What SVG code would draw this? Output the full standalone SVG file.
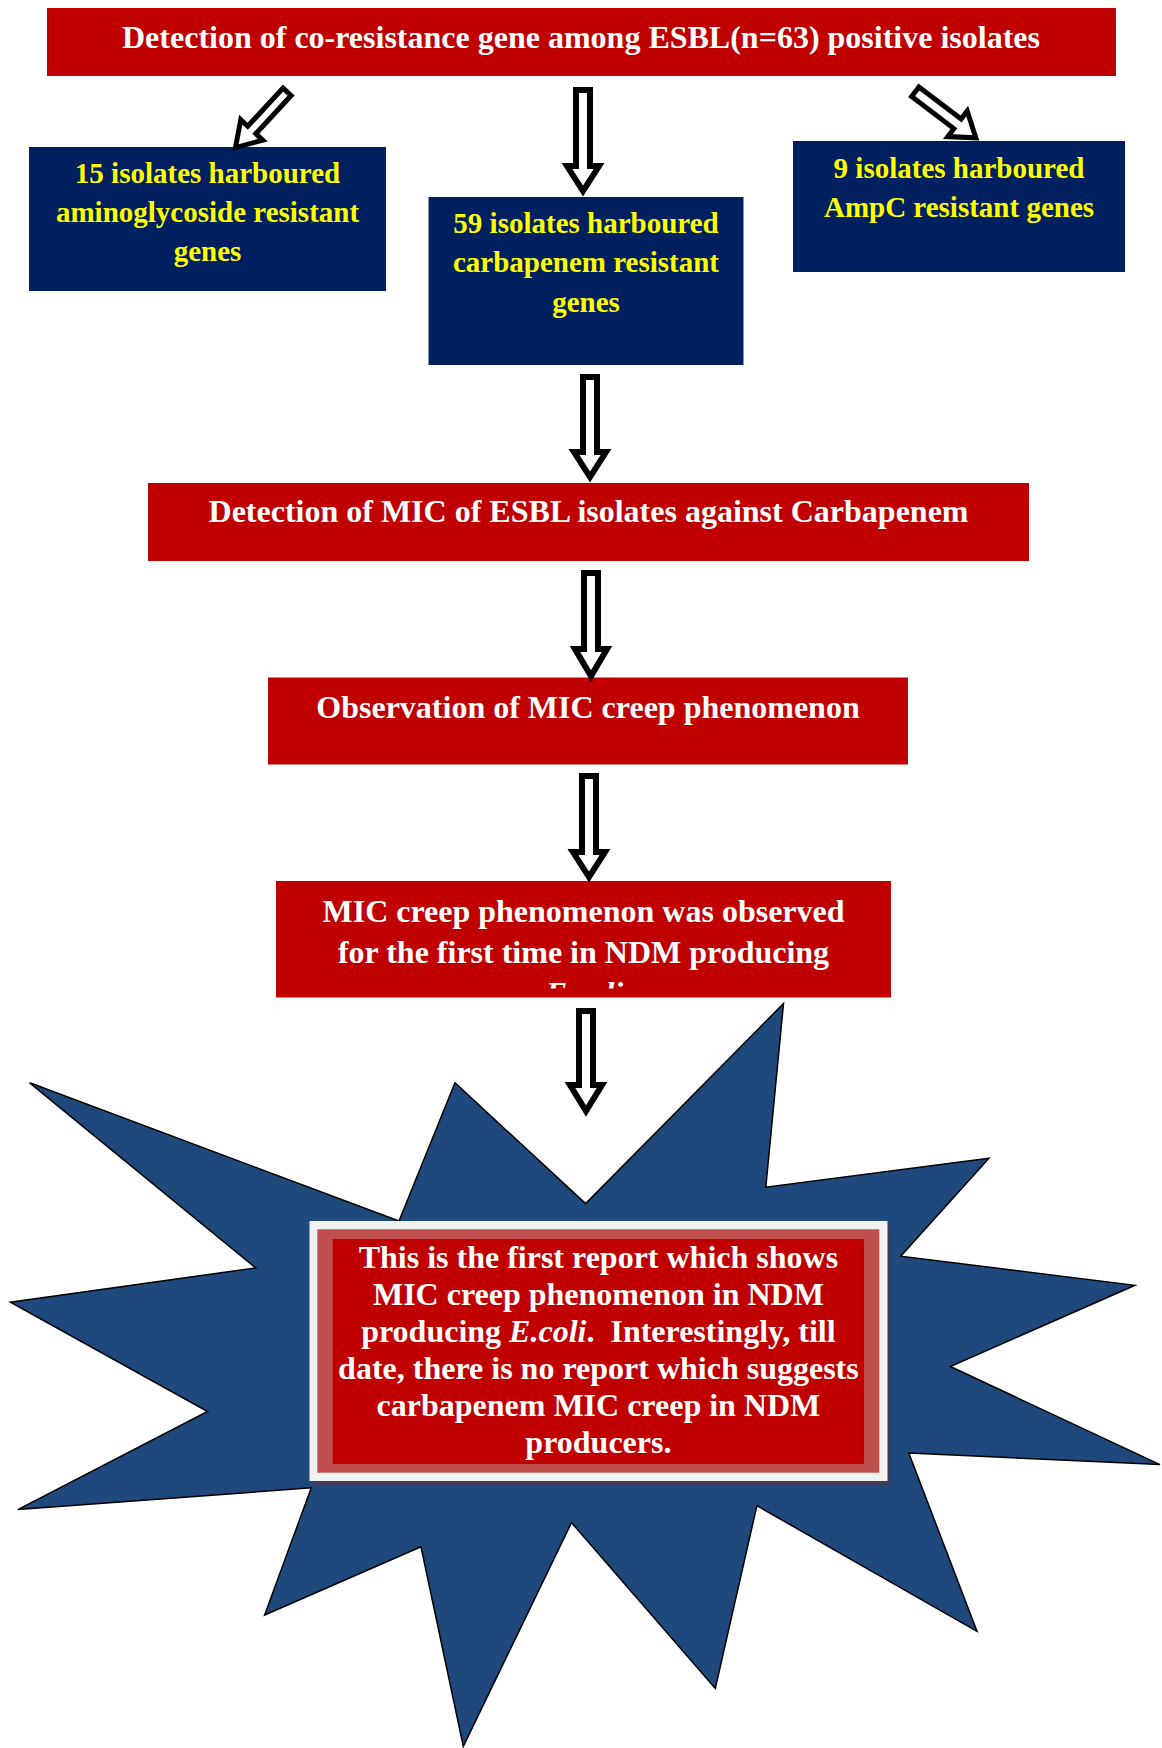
<svg xmlns="http://www.w3.org/2000/svg" width="1162" height="1748" viewBox="0 0 1162 1748">
<style>
.red{fill:#C00000}
.blue{fill:#002060}
.t{font-family:"Liberation Serif","Times New Roman",serif;font-weight:bold;text-anchor:middle}
.w{fill:#FFFFFF;font-size:32px}
.y{fill:#FFFF00;font-size:29px}
.arr{fill:#FFFFFF;stroke:#000000;stroke-linejoin:miter;stroke-miterlimit:10}
.v{stroke-width:6}
.d{stroke-width:5}
</style>
<defs>
<clipPath id="clipMic"><rect x="276" y="881" width="615" height="107.5"/></clipPath>
</defs>
<rect x="0" y="0" width="1162" height="1748" fill="#FFFFFF"/>

<g id="star">
<polygon points="29.7,1082.8 399,1221 455,1082.8 585.6,1203.6 783.5,1003.5 765.8,1187.2 988.9,1158.2 900.7,1256.3 1134.9,1285.3 950.3,1366.5 1160,1464.6 908.8,1453 977,1631.4 756.9,1505.7 715.3,1688.4 571.5,1522.6 463.3,1746.4 421,1546.8 264.6,1615 311.3,1487.8 17.8,1509.6 207.6,1411.5 10.4,1302.2 255.7,1267.9" fill="#1F497D" stroke="#000000" stroke-width="1.5" stroke-linejoin="miter"/>
</g>

<g id="n-top">
<rect class="red" x="47" y="8" width="1069" height="68"/>
<text class="t w" x="581" y="47.5">Detection of co-resistance gene among ESBL(n=63) positive isolates</text>
</g>

<g id="n-amino">
<rect class="blue" x="29" y="147" width="357" height="144"/>
<text class="t y" x="207.5" y="182.5">15 isolates harboured</text>
<text class="t y" x="207.5" y="221.5">aminoglycoside resistant</text>
<text class="t y" x="207.5" y="260.5">genes</text>
</g>

<g id="n-carba">
<rect class="blue" x="428.5" y="197" width="315" height="168"/>
<text class="t y" x="586" y="232.5">59 isolates harboured</text>
<text class="t y" x="586" y="272">carbapenem resistant</text>
<text class="t y" x="586" y="311.5">genes</text>
</g>

<g id="n-ampc">
<rect class="blue" x="793" y="141" width="332" height="131"/>
<text class="t y" x="959" y="177.5">9 isolates harboured</text>
<text class="t y" x="959" y="216.5">AmpC resistant genes</text>
</g>

<g id="n-micdet">
<rect class="red" x="148" y="483" width="881" height="78"/>
<text class="t w" x="588.5" y="522">Detection of MIC of ESBL isolates against Carbapenem</text>
</g>

<g id="n-obs">
<rect class="red" x="268" y="677.5" width="640" height="87"/>
<text class="t w" x="588" y="717.5">Observation of MIC creep phenomenon</text>
</g>

<g id="n-creep">
<rect class="red" x="276" y="881" width="615" height="116.5"/>
<text class="t w" x="583.5" y="921.5">MIC creep phenomenon was observed</text>
<text class="t w" x="583.5" y="962.5">for the first time in NDM producing</text>
<text class="t w" x="584.5" y="1004" clip-path="url(#clipMic)" font-style="italic">E.coli</text>
</g>

<g id="n-report">
<rect x="312.5" y="1225" width="577.5" height="260" fill="#403C5A"/>
<rect x="309.5" y="1221" width="578" height="260" fill="#F2F2F2"/>
<rect x="317.3" y="1229.3" width="562" height="243.4" fill="#C0504D"/>
<rect x="332.7" y="1239" width="531.3" height="225" fill="#C00000"/>
<text class="t w" x="598.4" y="1268.3">This is the first report which shows</text>
<text class="t w" x="598.4" y="1305.2">MIC creep phenomenon in NDM</text>
<text class="t w" x="598.4" y="1342" style="white-space:pre">producing <tspan font-style="italic">E.coli</tspan>.  Interestingly, till</text>
<text class="t w" x="598.4" y="1379">date, there is no report which suggests</text>
<text class="t w" x="598.4" y="1416">carbapenem MIC creep in NDM</text>
<text class="t w" x="598.4" y="1453">producers.</text>
</g>

<g id="connectors">
<polygon class="arr d" transform="translate(287.1,91.8) rotate(42.8)" points="-5.5,0 5.5,0 5.5,52 15,52 0,76 -15,52 -5.5,52"/>
<polygon class="arr v" points="576,90 590,90 590,166 599,166 583,191 567,166 576,166"/>
<polygon class="arr d" transform="translate(915.3,91.8) rotate(-52.8)" points="-6,0 6,0 6,53 16,53 0,76 -16,53 -6,53"/>
<polygon class="arr v" points="583,377 597,377 597,452 606,452 590,477 574,452 583,452"/>
<polygon class="arr v" points="584,573 598,573 598,649 607,649 591,676 575,649 584,649"/>
<polygon class="arr v" points="582,776 596,776 596,852 605,852 589,877 573,852 582,852"/>
<polygon class="arr v" points="579,1011 593,1011 593,1085 602,1085 586,1111 570,1085 579,1085"/>
</g>
</svg>
